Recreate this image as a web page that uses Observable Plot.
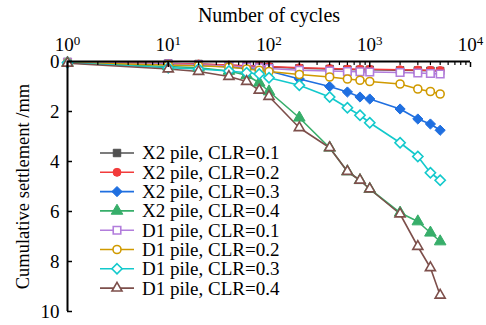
<!DOCTYPE html>
<html><head><meta charset="utf-8">
<script src="https://cdn.jsdelivr.net/npm/d3@7"></script>
<script src="https://cdn.jsdelivr.net/npm/@observablehq/plot@0.6"></script>
<style>
html,body{margin:0;padding:0;background:#fff;}
svg text{font-family:"Liberation Serif","Times New Roman",serif !important;}
</style>
</head><body><div id="chart"></div>
<script>
// ---- data ----
const cycles = [1, 10, 20, 40, 60, 80, 100, 200, 400, 600, 800, 1000, 2000, 3000, 4000, 5000];
const seriesNames = [
  "X2 pile, CLR=0.1", "X2 pile, CLR=0.2", "X2 pile, CLR=0.3", "X2 pile, CLR=0.4",
  "D1 pile, CLR=0.1", "D1 pile, CLR=0.2", "D1 pile, CLR=0.3", "D1 pile, CLR=0.4"
];
const x2_clr01 = [0.02, 0.08, 0.10, 0.15, 0.18, 0.20, 0.22, 0.27, 0.30, 0.32, 0.33, 0.33, 0.35, 0.36, 0.37, 0.38];
const x2_clr02 = [0.02, 0.08, 0.10, 0.14, 0.17, 0.18, 0.20, 0.25, 0.28, 0.30, 0.31, 0.31, 0.33, 0.34, 0.35, 0.36];
const x2_clr03 = [0.03, 0.12, 0.15, 0.22, 0.28, 0.32, 0.38, 0.70, 1.00, 1.22, 1.42, 1.50, 1.90, 2.30, 2.50, 2.75];
const x2_clr04 = [0.05, 0.20, 0.25, 0.38, 0.55, 0.85, 1.20, 2.25, 3.45, 4.40, 4.75, 5.10, 6.05, 6.40, 6.85, 7.20];
const d1_clr01 = [0.03, 0.10, 0.13, 0.18, 0.22, 0.25, 0.28, 0.35, 0.38, 0.40, 0.41, 0.42, 0.44, 0.46, 0.48, 0.50];
const d1_clr02 = [0.04, 0.14, 0.17, 0.22, 0.30, 0.35, 0.40, 0.52, 0.62, 0.70, 0.75, 0.80, 0.90, 1.10, 1.20, 1.30];
const d1_clr03 = [0.05, 0.25, 0.30, 0.38, 0.45, 0.50, 0.65, 0.95, 1.42, 1.85, 2.15, 2.45, 3.25, 3.80, 4.45, 4.75];
const d1_clr04 = [0.07, 0.30, 0.40, 0.60, 0.80, 1.15, 1.40, 2.65, 3.45, 4.40, 4.75, 5.10, 6.10, 7.40, 8.25, 9.35];
const seriesValues = [x2_clr01, x2_clr02, x2_clr03, x2_clr04, d1_clr01, d1_clr02, d1_clr03, d1_clr04];

const xMajorTicks = [1, 10, 100, 1000, 10000];
const xTickLabels = ["10^0", "10^1", "10^2", "10^3", "10^4"];
const xMinorTicks = [2,3,4,5,6,7,8,9, 20,30,40,50,60,70,80,90, 200,300,400,500,600,700,800,900, 2000,3000,4000,5000,6000,7000,8000,9000];
const yTicks = [0, 2, 4, 6, 8, 10];
const xDomain = [1, 10000];
const yDomain = [0, 10];

// ---- styles ----
const colors = ["#505050", "#f23b3b", "#1f6fe0", "#37ae6a", "#b27ddc", "#d09a00", "#13c9cc", "#7d4f4b"];
const symbols = ["square", "circle", "diamond2", "triangle", "square2", "circle", "diamond2", "triangle2"];
const sizes = [4.2, 4.0, 4.6, 4.3, 4.8, 4.0, 4.6, 4.8];
const filled = [true, true, true, true, false, false, false, false];
const FONT = "Liberation Serif";

const rows = [];
seriesValues.forEach((vals, s) => vals.forEach((v, i) => rows.push({s, x: cycles[i], y: v})));

const marks = [];
seriesValues.forEach((vals, s) => {
  const d = rows.filter(r => r.s === s);
  marks.push(Plot.line(d, {x: "x", y: "y", stroke: colors[s], strokeWidth: 1.6}));
});
seriesValues.forEach((vals, s) => {
  const d = rows.filter(r => r.s === s);
  marks.push(Plot.dot(d, {
    x: "x", y: "y", symbol: symbols[s], r: sizes[s],
    fill: filled[s] ? colors[s] : "white",
    stroke: colors[s], strokeWidth: filled[s] ? 1 : 1.6
  }));
});

const svg = Plot.plot({
  width: 486, height: 325,
  marginLeft: 67, marginRight: 16, marginTop: 61, marginBottom: 14,
  style: "font-family: 'Liberation Serif', serif; font-size: 19px; color: black; background: white;",
  x: {type: "log", domain: xDomain},
  y: {domain: yDomain, reverse: true},
  marks: [
    ...marks,
    Plot.ruleY([yDomain[0]], {stroke: "black", strokeWidth: 2}),
    Plot.ruleX([xDomain[0]], {stroke: "black", strokeWidth: 2}),
    Plot.axisX({anchor: "top", ticks: xMajorTicks, tickSize: 0, tickPadding: 11, fontSize: 19,
      tickFormat: d => xTickLabels[xMajorTicks.indexOf(d)], label: null}),
    Plot.axisX({anchor: "top", ticks: [], tickSize: 0, fontSize: 20,
      label: "Number of cycles", labelAnchor: "center", labelOffset: 54, labelArrow: "none"}),
    Plot.axisX({anchor: "top", ticks: xMajorTicks, tickSize: -5, fill: "none", label: null, strokeWidth: 1.5}),
    Plot.axisX({anchor: "top", ticks: xMinorTicks, tickSize: -3, fill: "none", label: null, strokeWidth: 1.2}),
    Plot.axisY({ticks: yTicks, tickSize: 0, tickPadding: 8, tickFormat: d => String(d), fontSize: 19, label: null}),
    Plot.axisY({ticks: [], tickSize: 0, fontSize: 18.5,
      label: "Cumulative settlement /mm", labelAnchor: "center", labelOffset: 52, labelArrow: "none"}),
    Plot.axisY({ticks: yTicks, tickSize: -5, fill: "none", label: null, strokeWidth: 1.5})
  ]
});

// superscript exponents on the log axis labels
d3.select(svg).selectAll('g[aria-label="x-axis tick label"] text').each(function() {
  const t = this.textContent;
  if (!t.includes("^")) return;
  const [b, e] = t.split("^");
  const sel = d3.select(this);
  sel.text(null);
  sel.append("tspan").text(b);
  sel.append("tspan").attr("dy", "-0.42em").attr("font-size", "13px").text(e);
});

// legend inside the plot
const legendX = 100, legendTop = 153, legendStep = 19.3;
const symMap = {square: d3.symbolSquare, circle: d3.symbolCircle, diamond2: d3.symbolDiamond2,
  triangle: d3.symbolTriangle, square2: d3.symbolSquare2, triangle2: d3.symbolTriangle2};
const lg = d3.select(svg).append("g").attr("font-family", FONT).attr("font-size", 19)
  .attr("fill", "black").attr("text-anchor", "start");
seriesNames.forEach((name, i) => {
  const yy = legendTop + i * legendStep;
  lg.append("line").attr("x1", legendX).attr("x2", legendX + 34).attr("y1", yy).attr("y2", yy)
    .attr("stroke", colors[i]).attr("stroke-width", 1.6);
  lg.append("path").attr("transform", `translate(${legendX + 17},${yy})`)
    .attr("d", d3.symbol(symMap[symbols[i]], Math.PI * sizes[i] * sizes[i])())
    .attr("fill", filled[i] ? colors[i] : "white").attr("stroke", colors[i])
    .attr("stroke-width", filled[i] ? 1 : 1.6);
  lg.append("text").attr("x", legendX + 42).attr("y", yy).attr("dy", "0.34em")
    .attr("text-anchor", "start").text(name);
});

document.getElementById("chart").appendChild(svg);
</script>
</body></html>
